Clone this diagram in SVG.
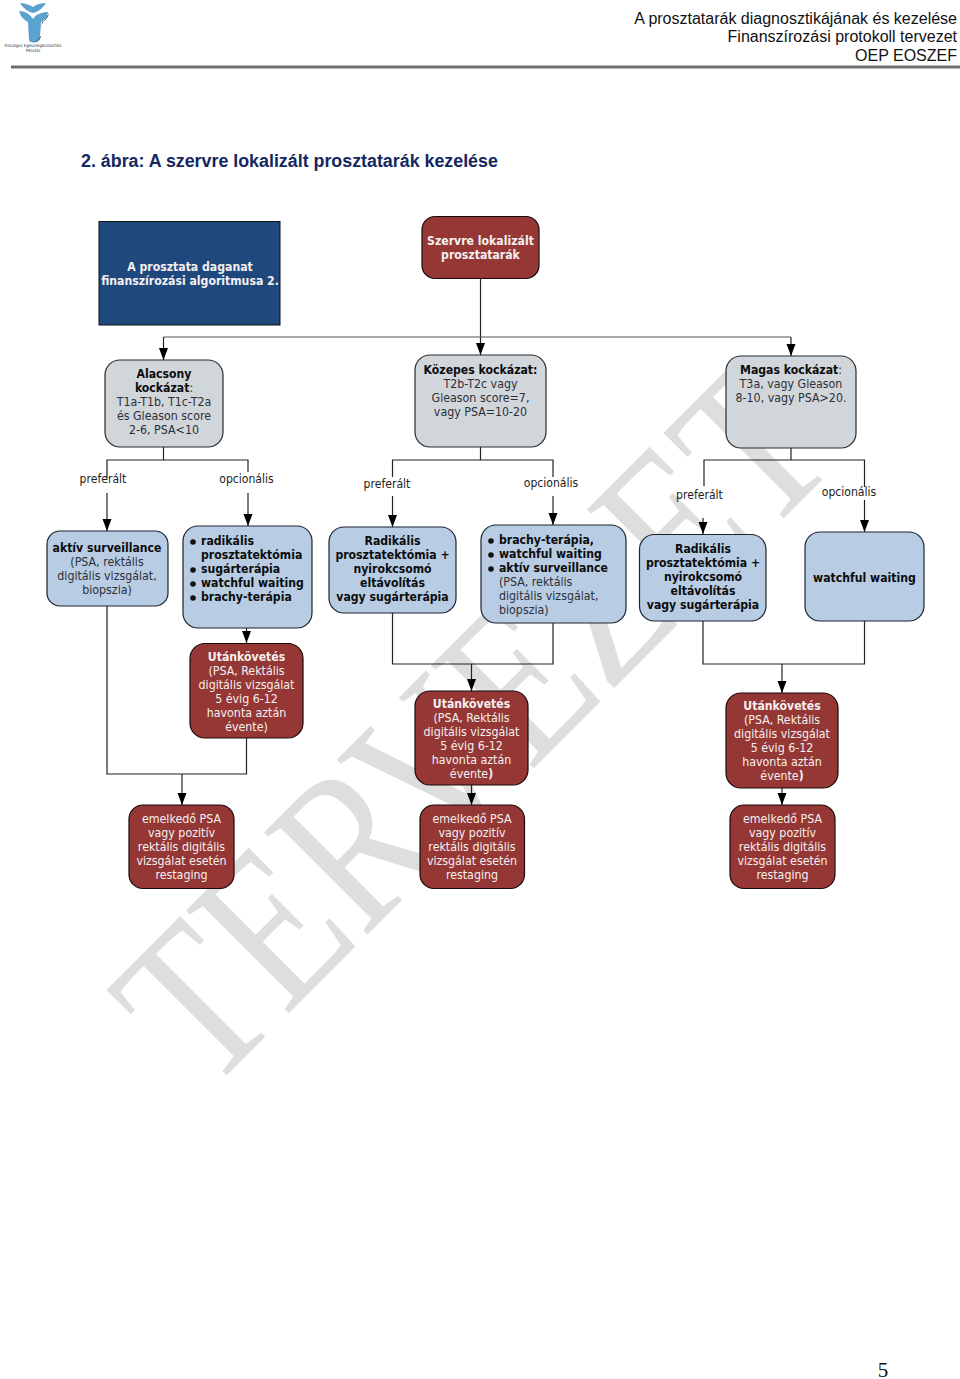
<svg xmlns="http://www.w3.org/2000/svg" width="960" height="1379" viewBox="0 0 960 1379">
<defs>
<marker id="ah" markerUnits="userSpaceOnUse" markerWidth="13" markerHeight="10" refX="12" refY="4.500" orient="auto"><path d="M0,0 L12,4.500 L0,9 Z" fill="#000"/></marker>
</defs>
<style>
text{font-family:"DejaVu Sans Condensed","DejaVu Sans",Verdana,sans-serif;font-size:12.3px;text-anchor:middle;fill:#2b3038}
.b{font-weight:700;fill:#0c0c0c;font-size:12.15px}
.l{text-anchor:start}
.w{fill:#f4f0f0}
.wb{fill:#f4f0f0;font-weight:700;font-size:12.15px}
.grey{fill:#d1d6db;stroke:#2a2a2a;stroke-width:1.2}
.blue{fill:#b8cce4;stroke:#1c2430;stroke-width:1.2}
.red{fill:#953735;stroke:#1a0a0a;stroke-width:1.2}
.hd{font-family:"Liberation Sans",Arial,sans-serif;font-size:16px;text-anchor:end;fill:#111}
.lab{font-size:12.1px;fill:#222}
.c{fill:none;stroke:#222;stroke-width:1.2}
.a{marker-end:url(#ah)}
</style>
<rect width="960" height="1379" fill="#fff"/>
<!-- watermark -->
<text id="watermark" transform="translate(207,1095) rotate(-45)" x="0" y="0" textLength="898" lengthAdjust="spacingAndGlyphs" style="font-family:'Liberation Serif',serif;font-size:222px;text-anchor:start;fill:#dedede">TERVEZET</text>
<!-- page header -->
<g id="logo">
<path d="M29,41 C34,44 40,42 41,36 L42,22 C45,21 48,18 49,13 L42,24 L41,36 Z" fill="#35566e"/>
<path d="M20,3 C24,3 28,4 33,7 C37,4 41,3 46,3 C43,8 38,12 33,13 C28,12 23,8 20,3Z" fill="#5ba3cf"/>
<path d="M19,11 C25,11 30,14 33,19 C36,14 42,12 48,12 C47,18 44,21 41,22 L40,36 C39,42 31,44 29,40 L28,22 C24,20 20,16 19,11Z" fill="#5ba3cf"/>
<text x="33" y="46.500" style="font-size:4.300px;fill:#333">Országos Egészségbiztosítási</text>
<text x="33" y="52" style="font-size:4.300px;fill:#333">Pénztár</text>
</g>
<text class="hd" x="957" y="23.500">A prosztatarák diagnosztikájának és kezelése</text>
<text class="hd" x="957" y="42">Finanszírozási protokoll tervezet</text>
<text class="hd" x="957" y="60.500">OEP EOSZEF</text>
<rect id="rule" x="11" y="65.500" width="949" height="3" fill="#6e6e6e"/>
<text id="title" x="81" y="166.500" style="font-family:'Liberation Sans',Arial,sans-serif;font-size:17.83px;font-weight:700;text-anchor:start;fill:#14275f">2. ábra: A szervre lokalizált prosztatarák kezelése</text>
<text id="page" x="883" y="1377" style="font-family:'Liberation Serif',serif;font-size:21px;fill:#111">5</text>

<g id="connectors">
<path class="c a" d="M480.500,278V355"/>
<path class="c" d="M163.500,337H791" style="stroke:#555"/>
<path class="c a" d="M163.500,337V360"/>
<path class="c a" d="M791,337V356"/>
<path class="c" d="M163.500,447V460M107,478V460H248V472"/>
<path class="c a" d="M107,493V531"/>
<path class="c a" d="M248,493V526"/>
<path class="c" d="M480.500,447V460M392.500,477V460H553V477"/>
<path class="c a" d="M392.500,496V527"/>
<path class="c a" d="M553,496V525"/>
<path class="c" d="M791,448V460M704,486V460H864.500V487"/>
<path class="c a" d="M703,518V534"/>
<path class="c a" d="M864.500,500V532"/>
<path class="c" d="M107,606V774H246.500V738"/>
<path class="c a" d="M182,774V805"/>
<path class="c a" d="M246.500,628V643"/>
<path class="c" d="M392.500,613V664H553V623"/>
<path class="c a" d="M471.500,664V691"/>
<path class="c a" d="M471.500,785V805"/>
<path class="c" d="M703,621V664H864.500V621"/>
<path class="c a" d="M782,664V693"/>
<path class="c a" d="M782,788V805"/>
</g>
<g id="edge-labels">
<text class="lab" x="103" y="483">preferált</text>
<text class="lab" x="246.500" y="483">opcionális</text>
<text class="lab" x="387" y="488">preferált</text>
<text class="lab" x="551" y="487">opcionális</text>
<text class="lab" x="699.500" y="499">preferált</text>
<text class="lab" x="849" y="496">opcionális</text>
</g>

<g id="n-algoritmus"><rect x="99" y="221.500" width="181" height="103.500" fill="#1f497d" stroke="#111" stroke-width="1"/>
<text class="wb" x="190" y="270.500">A prosztata daganat</text><text class="wb" x="190" y="284.500">finanszírozási algoritmusa 2.</text></g>
<g id="n-szervre"><rect class="red" x="422" y="216.500" width="117" height="62" rx="13"/>
<text class="wb" x="480.500" y="244.500">Szervre lokalizált</text><text class="wb" x="480.500" y="258.500">prosztatarák</text></g>

<g id="n-alacsony"><rect class="grey" x="105" y="360" width="118" height="87" rx="15"/>
<text class="b" x="164" y="378">Alacsony</text><text x="164" y="392"><tspan class="b">kockázat</tspan>:</text><text x="164" y="406">T1a-T1b, T1c-T2a</text><text x="164" y="420">és Gleason score</text><text x="164" y="434">2-6, PSA&lt;10</text></g>
<g id="n-kozepes"><rect class="grey" x="415" y="355" width="131" height="92" rx="15"/>
<text class="b" x="480.500" y="373.500">Közepes kockázat:</text><text x="480.500" y="387.500">T2b-T2c vagy</text><text x="480.500" y="401.500">Gleason score=7,</text><text x="480.500" y="415.500">vagy PSA=10-20</text></g>
<g id="n-magas"><rect class="grey" x="726" y="356" width="130" height="92" rx="15"/>
<text x="791" y="374"><tspan class="b">Magas kockázat</tspan>:</text><text x="791" y="388">T3a, vagy Gleason</text><text x="791" y="402">8-10, vagy PSA&gt;20.</text></g>

<g id="n-aktiv"><rect class="blue" x="47" y="531" width="121" height="75" rx="13"/>
<text class="b" x="107" y="551.500">aktív surveillance</text><text x="107" y="565.500">(PSA, rektális</text><text x="107" y="579.500">digitális vizsgálat,</text><text x="107" y="593.500">biopszia)</text></g>
<g id="n-opc1"><rect class="blue" x="183" y="526" width="129" height="102" rx="15"/>
<text class="b l" x="201" y="545">radikális</text><text class="b l" x="201" y="559">prosztatektómia</text><text class="b l" x="201" y="573">sugárterápia</text><text class="b l" x="201" y="587">watchful waiting</text><text class="b l" x="201" y="601">brachy-terápia</text>
<circle cx="193" cy="542" r="2.800" fill="#111"/><circle cx="193" cy="570" r="2.800" fill="#111"/><circle cx="193" cy="584" r="2.800" fill="#111"/><circle cx="193" cy="598" r="2.800" fill="#111"/></g>
<g id="n-radikalis1"><rect class="blue" x="329" y="527" width="127" height="86" rx="15"/>
<text class="b" x="392.500" y="545">Radikális</text><text class="b" x="392.500" y="559">prosztatektómia +</text><text class="b" x="392.500" y="573">nyirokcsomó</text><text class="b" x="392.500" y="587">eltávolítás</text><text class="b" x="392.500" y="601">vagy sugárterápia</text></g>
<g id="n-opc2"><rect class="blue" x="481" y="525" width="145" height="98" rx="15"/>
<text class="b l" x="499" y="544">brachy-terápia,</text><text class="b l" x="499" y="558">watchful waiting</text><text class="b l" x="499" y="572">aktív surveillance</text><text class="l" x="499" y="586">(PSA, rektális</text><text class="l" x="499" y="600">digitális vizsgálat,</text><text class="l" x="499" y="614">biopszia)</text>
<circle cx="491" cy="541" r="2.800" fill="#111"/><circle cx="491" cy="555" r="2.800" fill="#111"/><circle cx="491" cy="569" r="2.800" fill="#111"/></g>
<g id="n-radikalis2"><rect class="blue" x="639.500" y="534.500" width="126.500" height="86.500" rx="15"/>
<text class="b" x="703" y="552.500">Radikális</text><text class="b" x="703" y="566.500">prosztatektómia +</text><text class="b" x="703" y="580.500">nyirokcsomó</text><text class="b" x="703" y="594.500">eltávolítás</text><text class="b" x="703" y="608.500">vagy sugárterápia</text></g>
<g id="n-watchful"><rect class="blue" x="805" y="532" width="119" height="89" rx="15"/>
<text class="b" x="864.500" y="581.500">watchful waiting</text></g>

<g id="n-utan1"><rect class="red" x="190" y="643.500" width="113" height="94.500" rx="15"/>
<text class="wb" x="246.500" y="660.500">Utánkövetés</text><text class="w" x="246.500" y="674.500">(PSA, Rektális</text><text class="w" x="246.500" y="688.500">digitális vizsgálat</text><text class="w" x="246.500" y="702.500">5 évig 6-12</text><text class="w" x="246.500" y="716.500">havonta aztán</text><text class="w" x="246.500" y="730.500">évente)</text></g>
<g id="n-utan2"><rect class="red" x="415" y="691" width="113" height="94" rx="15"/>
<text class="wb" x="471.500" y="707.500">Utánkövetés</text><text class="w" x="471.500" y="721.500">(PSA, Rektális</text><text class="w" x="471.500" y="735.500">digitális vizsgálat</text><text class="w" x="471.500" y="749.500">5 évig 6-12</text><text class="w" x="471.500" y="763.500">havonta aztán</text><text class="w" x="471.500" y="777.500">évente<tspan class="wb">)</tspan></text></g>
<g id="n-utan3"><rect class="red" x="726" y="693" width="112" height="95" rx="15"/>
<text class="wb" x="782" y="709.500">Utánkövetés</text><text class="w" x="782" y="723.500">(PSA, Rektális</text><text class="w" x="782" y="737.500">digitális vizsgálat</text><text class="w" x="782" y="751.500">5 évig 6-12</text><text class="w" x="782" y="765.500">havonta aztán</text><text class="w" x="782" y="779.500">évente<tspan class="wb">)</tspan></text></g>

<g id="n-emelk1"><rect class="red" x="129" y="805" width="105" height="83.500" rx="14"/>
<text class="w" x="181.500" y="822.500">emelkedő PSA</text><text class="w" x="181.500" y="836.500">vagy pozitív</text><text class="w" x="181.500" y="850.500">rektális digitális</text><text class="w" x="181.500" y="864.500">vizsgálat esetén</text><text class="w" x="181.500" y="878.500">restaging</text></g>
<g id="n-emelk2"><rect class="red" x="420" y="805" width="104.500" height="83.500" rx="14"/>
<text class="w" x="472" y="822.500">emelkedő PSA</text><text class="w" x="472" y="836.500">vagy pozitív</text><text class="w" x="472" y="850.500">rektális digitális</text><text class="w" x="472" y="864.500">vizsgálat esetén</text><text class="w" x="472" y="878.500">restaging</text></g>
<g id="n-emelk3"><rect class="red" x="730" y="805" width="105" height="83.500" rx="14"/>
<text class="w" x="782.500" y="822.500">emelkedő PSA</text><text class="w" x="782.500" y="836.500">vagy pozitív</text><text class="w" x="782.500" y="850.500">rektális digitális</text><text class="w" x="782.500" y="864.500">vizsgálat esetén</text><text class="w" x="782.500" y="878.500">restaging</text></g>
</svg>
